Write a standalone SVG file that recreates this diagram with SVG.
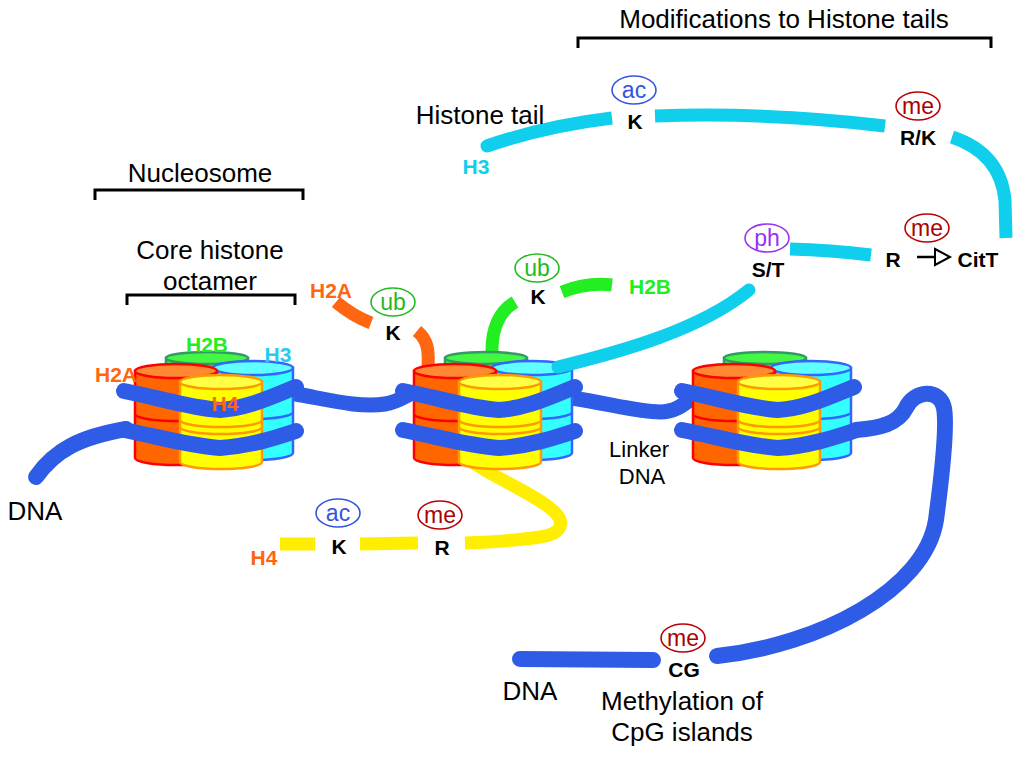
<svg xmlns="http://www.w3.org/2000/svg" xmlns:xlink="http://www.w3.org/1999/xlink" width="1024" height="757" viewBox="0 0 1024 757">
<style>
text{font-family:"Liberation Sans",Arial,sans-serif;}
.big{font-size:26px;fill:#000;}
.mid{font-size:22px;fill:#000;}
.res{font-size:21px;font-weight:bold;fill:#000;text-anchor:middle;}
.hl{font-size:21px;font-weight:bold;}
.tag{font-size:23px;text-anchor:middle;}
.tagE{fill:none;stroke-width:1.6;}
.dna{fill:none;stroke:#2e5ce6;stroke-linecap:round;stroke-linejoin:round;}
.tail{fill:none;stroke-width:13;}
.br{fill:none;stroke:#000;stroke-width:3;}
</style>
<defs>
<g id="nuc">
  <path d="M166,358 V395 A41,6 0 0 0 248,395 V358 Z" fill="#33ee33" stroke="#339966" stroke-width="2.5"/>
  <ellipse cx="207" cy="358" rx="41" ry="6" fill="#44f744" stroke="#339966" stroke-width="2.5"/>
  <path d="M213,368 V453 A40,7 0 0 0 293,453 V368 Z" fill="#33ffff" stroke="#3366ff" stroke-width="2.5"/>
  <path d="M213,412 A40,7 0 0 0 293,412" fill="none" stroke="#3366ff" stroke-width="2.5"/>
  <ellipse cx="253" cy="368" rx="40" ry="7" fill="#5fffff" stroke="#3366ff" stroke-width="2.5"/>
  <path d="M135,371 V458 A41,7 0 0 0 217,458 V371 Z" fill="#ff6600" stroke="#ff0000" stroke-width="2.5"/>
  <path d="M135,414 A41,7 0 0 0 217,414" fill="none" stroke="#ff0000" stroke-width="2.5"/>
  <ellipse cx="176" cy="371" rx="41" ry="7" fill="#ff8833" stroke="#ff0000" stroke-width="2.5"/>
  <path d="M180,382 V462 A41,7 0 0 0 262,462 V382 Z" fill="#ffff00" stroke="#ff9900" stroke-width="2.5"/>
  <path d="M180,420 A41,7 0 0 0 262,420" fill="none" stroke="#ff9900" stroke-width="2.5"/>
  <path d="M180,427 A41,7 0 0 0 262,427" fill="none" stroke="#ff9900" stroke-width="2.5"/>
  <ellipse cx="221" cy="382" rx="41" ry="7" fill="#ffff44" stroke="#ff9900" stroke-width="2.5"/>
  <path class="dna" stroke-width="16" d="M124,391 C160,398 190,408 220,410 C250,408 275,395 296,387"/>
  <path class="dna" stroke-width="16" d="M124,430 C160,437 190,446 220,448 C250,446 275,438 296,431"/>
</g>
</defs>

<g id="connectors">
  <path class="dna" stroke-width="16" d="M36,477 C55,450 80,437 126,429"/>
  <path class="dna" stroke-width="15" d="M296,394 C330,400 360,408 385,404 C398,402 405,396 412,393"/>
  <path class="dna" stroke-width="15" d="M572,398 C610,404 640,412 660,412 C675,412 683,405 692,398"/>
  <path class="dna" stroke-width="16" stroke-linecap="butt" d="M856,430 C880,428 898,424 906,408 C914,390 940,388 944,408 C948,430 940,490 936,520 C925,590 820,645 717,656"/>
  <path class="dna" stroke-width="16" stroke-linecap="butt" d="M520,659 L653,660"/>
  <path class="tail" stroke="#ffee00" stroke-width="12" d="M472,462 C495,478 530,492 550,508 C568,522 562,534 540,537 C515,541 490,542 465,543"/>
  <path class="tail" stroke="#ffee00" stroke-width="12" d="M360,544 L418,543"/>
  <path class="tail" stroke="#ffee00" stroke-width="12" d="M280,544 L315,544"/>
  <path class="tail" stroke="#ff6611" d="M428,368 C429,350 428,340 417,331"/>
  <path class="tail" stroke="#ff6611" d="M336,302 C348,312 358,318 371,323"/>
  <path class="tail" stroke="#22ee22" d="M492,356 C491,330 498,312 515,302"/>
  <path class="tail" stroke="#22ee22" d="M562,292 C580,285 595,283 612,285"/>
</g>

<g id="nucleosome-1"><use xlink:href="#nuc"/></g>
<g id="nucleosome-2"><use xlink:href="#nuc" transform="translate(279,0)"/></g>
<g id="nucleosome-3"><use xlink:href="#nuc" transform="translate(558,0)"/></g>

<g id="h3-tail">
  <path class="tail" stroke="#0fcfec" stroke-linecap="round" d="M558,367 C620,352 700,330 749,290"/>
  <path class="tail" stroke="#0fcfec" stroke-linecap="butt" d="M790,249 Q830,250 871,255"/>
  <path class="tail" stroke="#0fcfec" stroke-linecap="butt" d="M952,137 C985,148 1002,170 1005,200 L1006,238"/>
  <path class="tail" stroke="#0fcfec" stroke-linecap="butt" d="M655,116 Q770,112 885,126"/>
  <path class="tail" stroke="#0fcfec" stroke-linecap="butt" d="M612,118 Q545,126 487,146"/>
  <circle cx="487" cy="146" r="6.5" fill="#0fcfec"/>
</g>

<g id="labels-nucleosome">
  <text class="hl" x="207" y="352" text-anchor="middle" fill="#22ee22">H2B</text>
  <text class="hl" x="278" y="362" text-anchor="middle" fill="#22ccee">H3</text>
  <text class="hl" x="116" y="382" text-anchor="middle" fill="#ff6611">H2A</text>
  <text class="hl" x="225" y="411" text-anchor="middle" fill="#ff6611">H4</text>
  <text class="hl" x="331" y="298" text-anchor="middle" fill="#ff6611">H2A</text>
  <text class="hl" x="650" y="294" text-anchor="middle" fill="#22ee22">H2B</text>
  <text class="hl" x="264" y="565" text-anchor="middle" fill="#ff6611">H4</text>
  <text class="hl" x="476" y="174" text-anchor="middle" fill="#0fcfec">H3</text>
</g>

<g id="mod-h3-K">
  <ellipse class="tagE" cx="634" cy="90" rx="22" ry="14" stroke="#3355dd"/>
  <text class="tag" x="634" y="98" fill="#3355dd">ac</text>
  <text class="res" x="635" y="129">K</text>
</g>
<g id="mod-h3-RK">
  <ellipse class="tagE" cx="918" cy="106" rx="22" ry="14" stroke="#bb0000"/>
  <text class="tag" x="918" y="114" fill="#aa0000">me</text>
  <text class="res" x="918" y="145">R/K</text>
</g>
<g id="mod-h3-ST">
  <ellipse class="tagE" cx="767" cy="238" rx="22" ry="14" stroke="#9933ee"/>
  <text class="tag" x="767" y="246" fill="#9933ee">ph</text>
  <text class="res" x="768" y="277">S/T</text>
</g>
<g id="mod-h3-R">
  <ellipse class="tagE" cx="927" cy="228" rx="22" ry="14" stroke="#bb0000"/>
  <text class="tag" x="927" y="236" fill="#aa0000">me</text>
  <text class="res" x="893" y="267">R</text>
  <path d="M917,257 H935" stroke="#000" stroke-width="2.5" fill="none"/>
  <path d="M935,249 L950,257 L935,265 Z" fill="#fff" stroke="#000" stroke-width="2"/>
  <text class="res" x="978" y="267">CitT</text>
</g>
<g id="mod-h2b-K">
  <ellipse class="tagE" cx="537" cy="268" rx="22" ry="14" stroke="#22bb22"/>
  <text class="tag" x="537" y="276" fill="#22bb22">ub</text>
  <text class="res" x="538" y="304">K</text>
</g>
<g id="mod-h2a-K">
  <ellipse class="tagE" cx="393" cy="302" rx="22" ry="14" stroke="#22bb22"/>
  <text class="tag" x="393" y="310" fill="#22bb22">ub</text>
  <text class="res" x="393" y="340">K</text>
</g>
<g id="mod-h4-K">
  <ellipse class="tagE" cx="338" cy="513" rx="22" ry="14" stroke="#3355dd"/>
  <text class="tag" x="338" y="521" fill="#3355dd">ac</text>
  <text class="res" x="339" y="554">K</text>
</g>
<g id="mod-h4-R">
  <ellipse class="tagE" cx="440" cy="515" rx="22" ry="14" stroke="#bb0000"/>
  <text class="tag" x="440" y="523" fill="#aa0000">me</text>
  <text class="res" x="442" y="555">R</text>
</g>
<g id="mod-dna-CG">
  <ellipse class="tagE" cx="683" cy="638" rx="22" ry="14" stroke="#bb0000"/>
  <text class="tag" x="683" y="646" fill="#aa0000">me</text>
  <text class="res" x="684" y="677">CG</text>
</g>

<g id="annotations">
  <text class="big" x="784" y="28" text-anchor="middle">Modifications to Histone tails</text>
  <path class="br" d="M578,48 V38 H991 V48"/>
  <text class="big" x="200" y="182" text-anchor="middle">Nucleosome</text>
  <path class="br" d="M95,200 V190 H303 V200"/>
  <text class="big" x="210" y="259" text-anchor="middle">Core histone</text>
  <text class="big" x="210" y="290" text-anchor="middle">octamer</text>
  <path class="br" d="M127,305 V295 H295 V305"/>
  <text class="big" x="480" y="124" text-anchor="middle">Histone tail</text>
  <text class="big" x="35" y="520" text-anchor="middle">DNA</text>
  <text class="mid" x="639" y="457" text-anchor="middle">Linker</text>
  <text class="mid" x="642" y="484" text-anchor="middle">DNA</text>
  <text class="big" x="530" y="700" text-anchor="middle">DNA</text>
  <text class="big" x="682" y="710" text-anchor="middle">Methylation of</text>
  <text class="big" x="682" y="741" text-anchor="middle">CpG islands</text>
</g>
</svg>
